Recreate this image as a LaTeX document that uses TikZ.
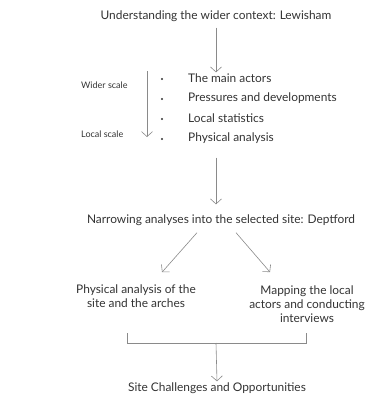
\documentclass[tikz,border=0pt]{standalone}
\usepackage{fontspec}
\setmainfont{Lato}
\usetikzlibrary{arrows.meta}
\definecolor{texto}{HTML}{333333}
\definecolor{linea}{HTML}{8A8A8A}
\begin{document}
\begin{tikzpicture}[
      x=1pt, y=-1pt,
      paso/.style={text=texto, font=\fontsize{11.9}{14.3}\selectfont, align=center, inner sep=1pt},
      punto/.style={text=texto, font=\fontsize{11.9}{14.3}\selectfont, anchor=west, inner sep=1pt},
      escala/.style={text=texto, font=\fontsize{9}{11}\selectfont, anchor=west, inner sep=1pt},
      flujo/.style={draw=linea, line width=0.6pt, -{Straight Barb[length=5pt, width=11pt]}},
      corchete/.style={draw=linea, line width=0.6pt}
    ]
    \useasboundingbox (0,0) rectangle (371,404);

    \node[paso]  (ctx) at (216,16)  {Understanding the wider context: Lewisham};
    \node[punto] (act) at (187,78)  {The main actors};
    \node[punto] (pre) at (187,98)  {Pressures and developments};
    \node[punto] (sta) at (187,118) {Local statistics};
    \node[punto] (phy) at (187,138) {Physical analysis};
    \foreach \y in {78,98,118,138}
      \fill[texto] (162,\y+1) circle (1.2);

    \node[escala] (wid) at (80,85)  {Wider scale};
    \node[escala] (loc) at (80,134) {Local scale};
    \coordinate (sup) at (147,71);
    \coordinate (inf) at (147,137);
    \draw[flujo] (sup) -- (inf);

    \node[paso]  (nar) at (221,220) {Narrowing analyses into the selected site: Deptford};
    \node[paso]  (sit) at (136,296) {Physical analysis of the\\ site and the arches};
    \node[paso]  (map) at (307,304) {Mapping the local\\ actors and conducting\\ interviews};
    \node[paso]  (opo) at (217,388) {Site Challenges and Opportunities};

    \draw[flujo, shorten <=5pt] (ctx.south) -- (ctx.south |- act.north);
    \draw[flujo, shorten <=13pt, shorten >=9pt] (ctx.south |- phy.south) -- (ctx.south |- nar.north);
    \draw[flujo] ([xshift=-24pt, yshift=-6pt]nar.south) -- ([xshift=26pt, yshift=11pt]sit.north);
    \draw[flujo] ([xshift=15pt, yshift=-6pt]nar.south) -- ([xshift=-37pt, yshift=12pt]map.north);

    \coordinate (izq) at (127,333);
    \coordinate (der) at (306,333);
    \coordinate (med) at (216,343);
    \draw[corchete] (izq) -- (izq |- med) -- (der |- med) -- (der);
    \draw[flujo] (med) -- (opo.north);
  \end{tikzpicture}
\end{document}
